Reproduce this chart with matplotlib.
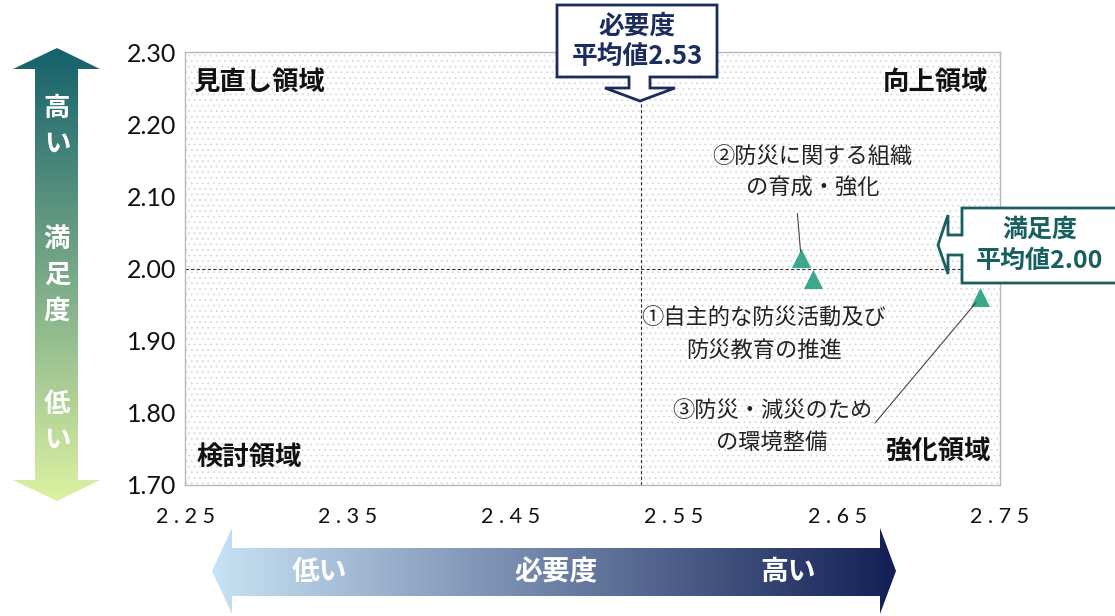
import matplotlib
matplotlib.use("Agg")
import matplotlib.pyplot as plt
from matplotlib.patches import Polygon, Rectangle
from matplotlib.colors import LinearSegmentedColormap
import numpy as np

plt.rcParams['font.family'] = ['Noto Sans CJK JP', 'DejaVu Sans']
plt.rcParams['hatch.linewidth'] = 0.6

# data
items = ["①自主的な防災活動及び\n防災教育の推進",
         "②防災に関する組織\nの育成・強化",
         "③防災・減災のため\nの環境整備"]
necessity = [2.635, 2.628, 2.738]
satisfaction = [1.986, 2.014, 1.960]
mean_need = 2.53
mean_sat = 2.00
x_ticks = [2.25, 2.35, 2.45, 2.55, 2.65, 2.75]
y_ticks = [1.70, 1.80, 1.90, 2.00, 2.10, 2.20, 2.30]

W, H = 1115, 616
fig = plt.figure(figsize=(W / 100, H / 100), dpi=100)
ax = fig.add_axes([185 / W, 1 - 485 / H, 815 / W, 433 / H])
ax.set_xlim(2.25, 2.75)
ax.set_ylim(1.70, 2.30)

ax.add_patch(Rectangle((0, 0), 1, 1, transform=ax.transAxes, hatch='...',
                       fill=False, lw=0, edgecolor='#d8d8d8', zorder=0))
for s in ax.spines.values():
    s.set_color('#b8b8b8')
    s.set_linewidth(1)

ax.axvline(mean_need, color='#333333', lw=0.8, ls=(0, (3, 2)), zorder=1)
ax.axhline(mean_sat, color='#333333', lw=0.8, ls=(0, (3, 2)), zorder=1)

ax.scatter(necessity, satisfaction, marker='^', s=190, color='#3aa88a', zorder=3, lw=0)

ax.set_xticks(x_ticks)
ax.set_xticklabels([" ".join(f"{v:.2f}") for v in x_ticks], fontsize=15.5,
                   family=['Lato', 'DejaVu Sans'], color='#111111')
ax.set_yticks(y_ticks)
ax.set_yticklabels([f"{v:.2f}" for v in y_ticks], fontsize=18,
                   family=['Lato', 'DejaVu Sans'], color='#111111')
ax.tick_params(length=0)
ax.tick_params(axis='x', pad=16)
ax.tick_params(axis='y', pad=6)

# point labels
lkw = dict(textcoords='offset points', ha='center', va='center',
           fontsize=16, linespacing=1.5, color='#222222')
ax.annotate(items[0], (necessity[0], satisfaction[0]), xytext=(-35, -40), **lkw)
ax.annotate(items[1], (necessity[1], satisfaction[1]), xytext=(8, 62),
            arrowprops=dict(arrowstyle='-', color='#444444', lw=0.8,
                            relpos=(0.42, 0), shrinkA=8, shrinkB=5), **lkw)
ax.annotate(items[2], (necessity[2], satisfaction[2]), xytext=(-150, -93),
            arrowprops=dict(arrowstyle='-', color='#444444', lw=0.8,
                            relpos=(1, 0.5), shrinkA=0, shrinkB=5,
                            connectionstyle="angle,angleA=0,angleB=50,rad=0"), **lkw)

# quadrant labels
qkw = dict(transform=ax.transAxes, fontsize=19, fontweight='bold', color='#111111', va='center')
ax.text(0.01, 0.93, "見直し領域", ha='left', **qkw)
ax.text(0.985, 0.93, "向上領域", ha='right', **qkw)
ax.text(0.014, 0.065, "検討領域", ha='left', **qkw)
ax.text(0.988, 0.078, "強化領域", ha='right', **qkw)

# overlay in pixel coordinates for arrows and callouts
ov = fig.add_axes([0, 0, 1, 1], zorder=5)
ov.axis('off')
ov.patch.set_alpha(0)


def grad_arrow(pts, c0, c1, extent, vertical):
    poly = Polygon(pts, closed=True, fc='none', ec='none')
    ov.add_patch(poly)
    cmap = LinearSegmentedColormap.from_list('g', [c0, c1])
    g = np.linspace(0, 1, 256)
    img = g[:, None] if vertical else g[None, :]
    im = ov.imshow(img, cmap=cmap, extent=extent, aspect='auto', origin='upper')
    im.set_clip_path(poly)


# vertical satisfaction arrow
grad_arrow([(57, 48), (100, 69), (78, 69), (78, 480), (100, 480), (57, 501),
            (13, 480), (35, 480), (35, 69), (13, 69)],
           '#14606c', '#dcf2a2', (10, 104, 501, 46), True)
vkw = dict(color='white', fontsize=19, fontweight='bold', ha='center', va='center',
           linespacing=1.42)
ov.text(57, 126, "高\nい", **vkw)
ov.text(57, 275, "満\n足\n度", **vkw)
ov.text(57, 422, "低\nい", **vkw)

# horizontal necessity arrow
grad_arrow([(212, 571), (232, 528), (232, 548), (880, 548), (880, 528), (896, 571),
            (880, 614), (880, 596), (232, 596), (232, 614)],
           '#c8e3f5', '#121f55', (210, 898, 616, 526), False)
for x, t in [(320, "低い"), (556, "必要度"), (788, "高い")]:
    ov.text(x, 572, t, color='white', fontsize=20, fontweight='bold', ha='center', va='center')

ov.set_xlim(0, W)
ov.set_ylim(H, 0)

# callout: necessity mean
navy = '#1c2c5e'
ov.add_patch(Polygon([(557, 5), (717, 5), (717, 77), (650, 77), (650, 88), (675, 88),
                      (640, 101), (605, 88), (629, 88), (629, 77), (557, 77)],
                     closed=True, fc='white', ec=navy, lw=2))
ov.text(637, 26, "必要度", color=navy, fontsize=18.5, fontweight='bold', ha='center', va='center')
ov.text(637, 56, "平均値2.53", color=navy, fontsize=18.5, fontweight='bold', ha='center', va='center')

# callout: satisfaction mean
teal = '#17605f'
ov.add_patch(Polygon([(962, 208), (1125, 208), (1125, 283), (962, 283), (962, 255),
                      (948, 255), (948, 274), (938, 245), (948, 215), (948, 235), (962, 235)],
                     closed=True, fc='white', ec=teal, lw=2, clip_on=False))
ov.text(1040, 230, "満足度", color=teal, fontsize=18, fontweight='bold', ha='center', va='center')
ov.text(1040, 261, "平均値2.00", color=teal, fontsize=18, fontweight='bold', ha='center', va='center')

fig.savefig("out.png", dpi=100)
